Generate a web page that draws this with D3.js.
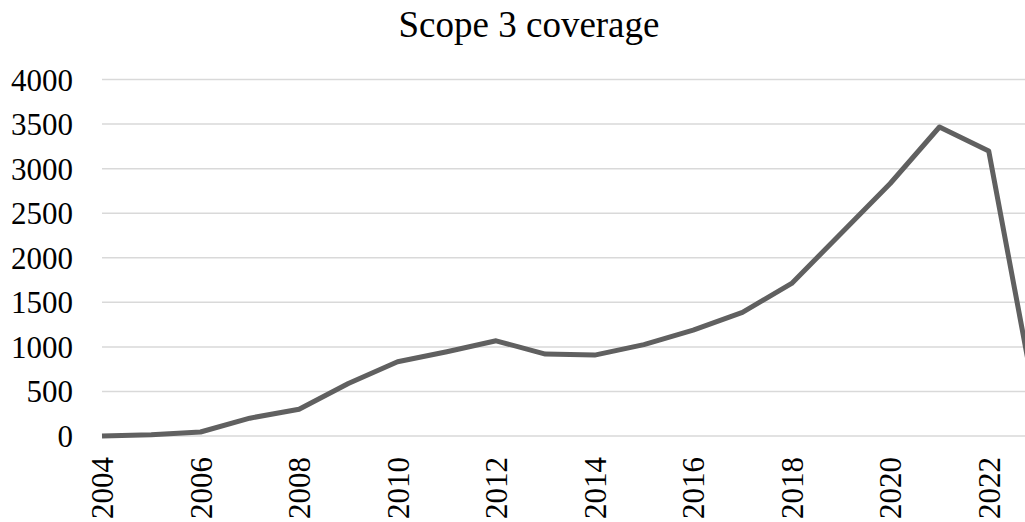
<!DOCTYPE html>
<html lang="en">
<head>
<meta charset="UTF-8">
<title>Scope 3 coverage</title>
<script src="https://cdn.jsdelivr.net/npm/d3@7"></script>
<style>
  body { margin: 0; background: #fff; }
  text { font-family: "Liberation Serif", "Times New Roman", serif; fill: #000; }
</style>
</head>
<body>
<script>
  var years = [2004, 2005, 2006, 2007, 2008, 2009, 2010, 2011, 2012, 2013,
               2014, 2015, 2016, 2017, 2018, 2019, 2020, 2021, 2022, 2023];
  var counts = [0, 15, 45, 200, 300, 590, 833, 945, 1068, 919,
                908, 1025, 1188, 1387, 1712, 2272, 2833, 3467, 3198, 250];
  var yTicks = [0, 500, 1000, 1500, 2000, 2500, 3000, 3500, 4000];
  var xTicks = [2004, 2006, 2008, 2010, 2012, 2014, 2016, 2018, 2020, 2022];

  var w = 1025, h = 522;

  var svg = d3.select("body").append("svg")
    .attr("width", w)
    .attr("height", h);

  var x = d3.scaleLinear().domain([2004, 2023]).range([102, 1038]);
  var y = d3.scaleLinear().domain([0, 4000]).range([436, 79.5]);

  // title
  svg.append("text")
    .attr("x", 529)
    .attr("y", 37)
    .attr("text-anchor", "middle")
    .style("font-size", "37px")
    .text("Scope 3 coverage");

  // gridlines
  svg.append("g")
    .selectAll("line")
    .data(yTicks)
    .enter()
    .append("line")
    .attr("x1", 102)
    .attr("x2", w)
    .attr("y1", function(d) { return y(d); })
    .attr("y2", function(d) { return y(d); })
    .attr("stroke", "#d9d9d9")
    .attr("stroke-width", 1.5);

  // y axis labels
  var yAxis = d3.axisLeft(y).tickValues(yTicks).tickSize(0).tickPadding(29)
    .tickFormat(d3.format("d"));
  var gy = svg.append("g").attr("transform", "translate(102,0)").call(yAxis);
  gy.select(".domain").remove();
  gy.selectAll("text")
    .style("font-size", "31px")
    .attr("dy", "0.34em");

  // x axis labels, rotated
  var xAxis = d3.axisBottom(x).tickValues(xTicks).tickSize(0).tickFormat(d3.format("d"));
  var gx = svg.append("g").attr("transform", "translate(0,436)").call(xAxis);
  gx.select(".domain").remove();
  gx.selectAll("text")
    .style("font-size", "31px")
    .attr("text-anchor", "end")
    .attr("transform", "rotate(-90)")
    .attr("x", -21)
    .attr("y", 0)
    .attr("dy", "0.34em");

  // line
  var line = d3.line()
    .x(function(d, i) { return x(years[i]); })
    .y(function(d) { return y(d); });

  svg.append("path")
    .datum(counts)
    .attr("d", line)
    .attr("fill", "none")
    .attr("stroke", "#606060")
    .attr("stroke-width", 5)
    .attr("stroke-linejoin", "round");
</script>
</body>
</html>
